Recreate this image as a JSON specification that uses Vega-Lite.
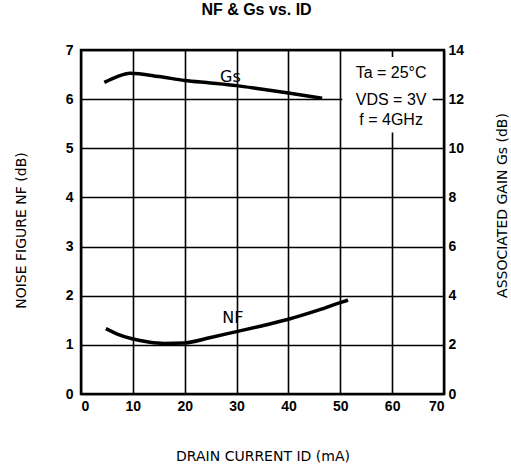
{
  "$schema": "https://vega.github.io/schema/vega-lite/v6.json",
  "autosize": {"type": "none"},
  "padding": {"left": 81, "top": 50, "right": 67, "bottom": 75},
  "width": 363,
  "height": 344,
  "background": "white",
  "title": {"text": "NF & Gs vs. ID", "fontSize": 16, "font": "Liberation Sans", "fontWeight": "bold", "color": "black", "anchor": "middle", "dx": -6, "offset": 25},
  "config": {
    "view": {"stroke": "black", "strokeWidth": 2.5},
    "axis": {"labelFont": "Liberation Sans", "titleFont": "DejaVu Sans", "labelColor": "black", "titleColor": "black", "labelFontWeight": "bold", "labelFontSize": 14, "titleFontSize": 14, "titleFontWeight": "normal", "domain": false, "ticks": false, "gridColor": "black", "gridWidth": 1.6, "gridOpacity": 1}
  },
  "datasets": {
    "nf": [
      {"id": 4.8, "nf": 1.33}, {"id": 7, "nf": 1.22}, {"id": 10, "nf": 1.12}, {"id": 13, "nf": 1.06},
      {"id": 16, "nf": 1.03}, {"id": 20, "nf": 1.04}, {"id": 25, "nf": 1.15}, {"id": 30, "nf": 1.27},
      {"id": 35, "nf": 1.39}, {"id": 40, "nf": 1.52}, {"id": 45, "nf": 1.68}, {"id": 50, "nf": 1.86}, {"id": 51.5, "nf": 1.91}
    ],
    "gs": [
      {"id": 4.5, "gs": 12.68}, {"id": 7, "gs": 12.92}, {"id": 9.5, "gs": 13.05}, {"id": 15, "gs": 12.92},
      {"id": 20, "gs": 12.76}, {"id": 25, "gs": 12.66}, {"id": 30, "gs": 12.55}, {"id": 35, "gs": 12.4},
      {"id": 40, "gs": 12.25}, {"id": 46.5, "gs": 12.04}
    ],
    "box": [{"x1": 50.4, "x2": 67.8, "y1": 5.32, "y2": 6.86}],
    "notes": [
      {"label": "Ta = 25°C", "x": 59.8, "y": 6.54},
      {"label": "VDS = 3V", "x": 59.8, "y": 5.99},
      {"label": "f = 4GHz", "x": 59.8, "y": 5.58}
    ],
    "curves": [
      {"label": "Gs", "x": 28.8, "y": 6.46},
      {"label": "NF", "x": 29.3, "y": 1.55}
    ]
  },
  "layer": [
    {
      "layer": [
        {
          "data": {"name": "box"},
          "mark": {"type": "rect", "fill": "white", "stroke": null},
          "encoding": {
            "x": {"field": "x1", "type": "quantitative", "scale": {"domain": [0, 70], "nice": false}, "axis": {"values": [0, 10, 20, 30, 40, 50, 60, 70], "grid": true, "labelPadding": 5, "title": "DRAIN CURRENT ID (mA)", "titleFontSize": 14, "titlePadding": 36}},
            "x2": {"field": "x2"},
            "y": {"field": "y1", "type": "quantitative", "scale": {"domain": [0, 7], "nice": false}, "axis": {"values": [0, 1, 2, 3, 4, 5, 6, 7], "grid": true, "orient": "left", "labelPadding": 8, "title": "NOISE FIGURE NF (dB)", "titlePadding": 37, "titleY": 180}},
            "y2": {"field": "y2"}
          }
        },
        {
          "data": {"name": "nf"},
          "mark": {"type": "line", "color": "black", "strokeWidth": 3.5, "interpolate": "monotone"},
          "encoding": {
            "x": {"field": "id", "type": "quantitative"},
            "y": {"field": "nf", "type": "quantitative"}
          }
        },
        {
          "data": {"name": "notes"},
          "mark": {"type": "text", "font": "Liberation Sans", "fontSize": 16, "color": "black", "align": "center", "baseline": "middle"},
          "encoding": {
            "x": {"field": "x", "type": "quantitative"},
            "y": {"field": "y", "type": "quantitative"},
            "text": {"field": "label"}
          }
        },
        {
          "data": {"name": "curves"},
          "mark": {"type": "text", "font": "DejaVu Sans", "fontSize": 16, "color": "black", "align": "center", "baseline": "middle"},
          "encoding": {
            "x": {"field": "x", "type": "quantitative"},
            "y": {"field": "y", "type": "quantitative"},
            "text": {"field": "label"}
          }
        }
      ]
    },
    {
      "data": {"name": "gs"},
      "mark": {"type": "line", "color": "black", "strokeWidth": 3.5, "interpolate": "monotone"},
      "encoding": {
        "x": {"field": "id", "type": "quantitative"},
        "y": {"field": "gs", "type": "quantitative", "scale": {"domain": [0, 14], "nice": false}, "axis": {"orient": "right", "values": [0, 2, 4, 6, 8, 10, 12, 14], "grid": false, "labelPadding": 4, "title": "ASSOCIATED GAIN Gs (dB)", "titleAngle": -90, "titleBaseline": "bottom", "titlePadding": 46, "titleY": 155}}
      }
    }
  ],
  "resolve": {"scale": {"y": "independent"}}
}
